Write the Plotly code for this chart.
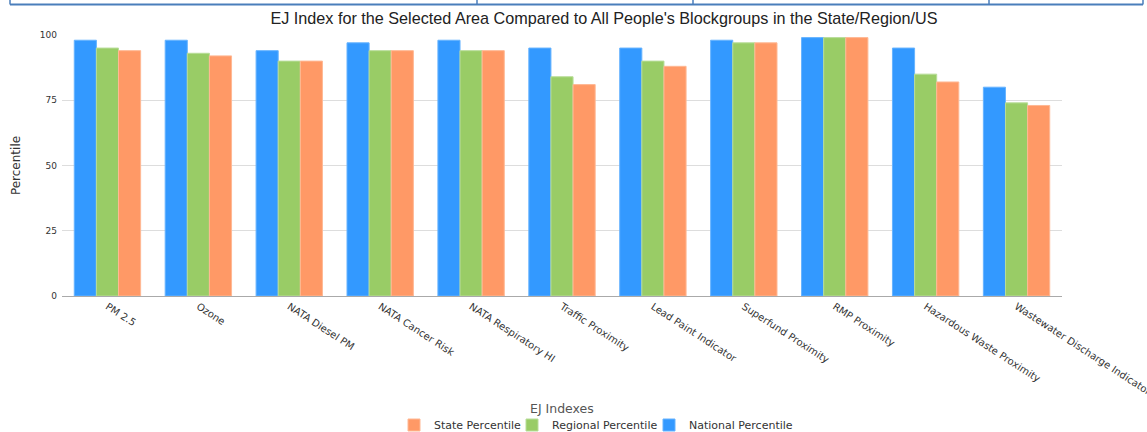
import plotly.graph_objects as go

categories = ["PM 2.5", "Ozone", "NATA Diesel PM", "NATA Cancer Risk", "NATA Respiratory HI",
              "Traffic Proximity", "Lead Paint Indicator", "Superfund Proximity", "RMP Proximity",
              "Hazardous Waste Proximity", "Wastewater Discharge Indicator"]
national = [98, 98, 94, 97, 98, 95, 95, 98, 99, 95, 80]
regional = [95, 93, 90, 94, 94, 84, 90, 97, 99, 85, 74]
state = [94, 92, 90, 94, 94, 81, 88, 97, 99, 82, 73]
y_ticks = [0, 25, 50, 75, 100]

FONT = "DejaVu Sans"

fig = go.Figure()
fig.add_trace(go.Bar(x=categories, y=national, name="National Percentile", legendwidth=120,
                     marker=dict(color="#3399FF", line=dict(color="#66B3FF", width=1))))
fig.add_trace(go.Bar(x=categories, y=regional, name="Regional Percentile", legendwidth=92,
                     marker=dict(color="#99CC66", line=dict(color="#B8DD99", width=1))))
fig.add_trace(go.Bar(x=categories, y=state, name="State Percentile", legendwidth=73,
                     marker=dict(color="#FF9966", line=dict(color="#FFB894", width=1))))

W, H = 1147, 432
L, R, T, B = 62, 1062, 35, 296

def px(x):
    return (x - L) / (R - L)

def py(y):
    return (B - y) / (B - T)

shapes = [dict(type="line", xref="paper", yref="paper", x0=px(10), x1=px(1143), y0=py(4.5), y1=py(4.5),
               line=dict(color="#4A7EBB", width=2))]
for vx in [10, 477, 693, 989, 1143]:
    shapes.append(dict(type="line", xref="paper", yref="paper", x0=px(vx), x1=px(vx), y0=py(-2), y1=py(4.5),
                       line=dict(color="#4A7EBB", width=1.5)))

fig.update_layout(
    width=W, height=H,
    margin=dict(l=L, r=W - R, t=T, b=H - B, pad=0, autoexpand=False),
    paper_bgcolor="white", plot_bgcolor="white",
    barmode="group", bargap=0.27, bargroupgap=0,
    title=dict(text="EJ Index for the Selected Area Compared to All People's Blockgroups in the State/Region/US",
               x=604 / W, xref="container", xanchor="center", y=1 - 18 / H, yref="container", yanchor="middle",
               font=dict(family="Liberation Sans", size=16.2, color="#222222")),
    font=dict(family=FONT, size=10, color="#333333"),
    xaxis=dict(tickangle=33, showgrid=False, showline=True, linecolor="#AAAAAA", linewidth=1,
               ticks="", tickfont=dict(size=10, color="#333333"), automargin=False,
               title=dict(text="")),
    yaxis=dict(range=[0, 100], tickvals=y_ticks, showgrid=True, gridcolor="#DDDDDD", gridwidth=1,
               zeroline=False, ticks="", ticklen=0, tickfont=dict(size=9, color="#333333"),
               automargin=False, ticklabelstandoff=4,
               title=dict(text="Percentile", font=dict(size=12, color="#333333"), standoff=16)),
    legend=dict(orientation="h", x=px(394), xref="paper", xanchor="left",
                y=py(425), yref="paper", yanchor="middle",
                traceorder="reversed", font=dict(size=11, color="#333333"),
                itemwidth=30, tracegroupgap=0),
    annotations=[dict(text="EJ Indexes", x=px(562), xref="paper", y=py(408), yref="paper",
                      xanchor="center", yanchor="middle", showarrow=False,
                      font=dict(size=12.5, color="#555555"))],
    shapes=shapes,
)

fig.write_html("out.html", config={"displayModeBar": False},
               post_script="document.body.style.margin='0';")
